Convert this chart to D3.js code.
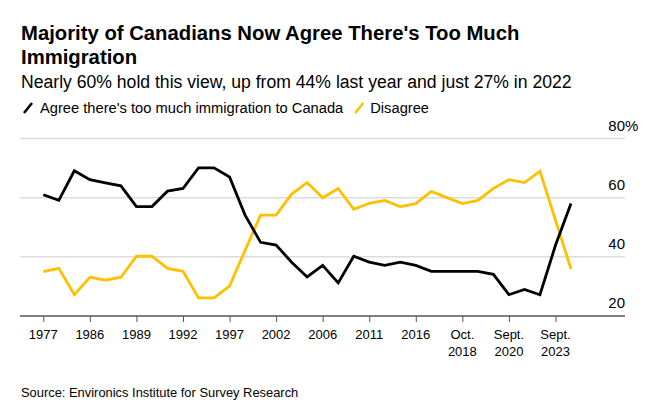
<!DOCTYPE html>
<html>
<head>
<meta charset="utf-8">
<script src="https://cdn.jsdelivr.net/npm/d3@7"></script>
<style>
  html, body { margin: 0; padding: 0; background: #fff; }
  svg { display: block; font-family: "Liberation Sans", Arial, Helvetica, sans-serif; }
</style>
</head>
<body>
<svg id="chart" width="659" height="417"></svg>
<script>
// ---- Data ----
const categories = ["1977","1980","1983","1986","1987","1988","1989","1990","1991","1992","1993","1994","1997","1998","2000","2002","2003","2005","2006","2008","2010","2011","2012","2015","2016","2017","Feb. 2018","Oct. 2018","2019","Feb. 2020","Sept. 2020","2021","2022","Sept. 2023","Sept. 2024"];
const agree    = [61.0,59.1,69.1,66.1,65.0,64.0,57.0,57.0,62.2,63.1,70.1,70.1,67.0,54.1,44.9,44.0,38.2,33.2,37.1,31.2,40.2,38.2,37.1,38.2,37.1,35.1,35.1,35.1,35.1,34.1,27.2,29.0,27.2,43.9,58.0];
const disagree = [35.0,36.1,27.2,33.1,32.1,33.1,40.2,40.2,36.1,35.1,26.1,26.1,30.1,42.2,54.1,54.1,61.2,65.1,60.0,63.1,56.1,58.1,59.1,57.0,58.0,62.1,60.0,58.0,59.1,63.1,66.1,65.1,68.9,52.4,35.9];
const tickCats   = ["1977","1986","1989","1992","1997","2002","2006","2011","2016","Oct. 2018","Sept. 2020","Sept. 2023"];
const tickLabels = [["1977"],["1986"],["1989"],["1992"],["1997"],["2002"],["2006"],["2011"],["2016"],["Oct.","2018"],["Sept.","2020"],["Sept.","2023"]];
const yTicks = [20, 40, 60, 80];
const seriesNames = ["Agree there's too much immigration to Canada", "Disagree"];
const seriesColors = ["#000000", "#ffc000"];

// ---- Layout ----
const svg = d3.select("#chart");
const plotLeft = 20, plotRight = 625;
const x = d3.scalePoint().domain(categories).range([43.3, 571]);
const y = d3.scaleLinear().domain([20, 80]).range([316, 138.5]);

// Title
const title = svg.append("text").attr("x", 21).attr("y", 40)
  .attr("font-size", 20.3).attr("font-weight", "bold").attr("fill", "#000");
title.append("tspan").attr("x", 21).text("Majority of Canadians Now Agree There's Too Much");
title.append("tspan").attr("x", 21).attr("dy", 24).text("Immigration");

svg.append("text").attr("x", 21).attr("y", 88)
  .attr("font-size", 17.6).attr("fill", "#000")
  .text("Nearly 60% hold this view, up from 44% last year and just 27% in 2022");

// Legend
const leg1 = svg.append("g");
leg1.append("line").attr("x1", 24).attr("y1", 113).attr("x2", 32).attr("y2", 103)
  .attr("stroke", seriesColors[0]).attr("stroke-width", 2.5);
const t1 = leg1.append("text").attr("x", 40).attr("y", 113).attr("font-size", 14.7)
  .text(seriesNames[0]);
const w1 = t1.node().getComputedTextLength();
const leg2x = 40 + w1 + 12;
const leg2 = svg.append("g");
leg2.append("line").attr("x1", leg2x).attr("y1", 113).attr("x2", leg2x + 8).attr("y2", 103)
  .attr("stroke", seriesColors[1]).attr("stroke-width", 2.5);
leg2.append("text").attr("x", leg2x + 15).attr("y", 113).attr("font-size", 14.7)
  .text(seriesNames[1]);

// Gridlines + y labels
const grid = svg.append("g");
yTicks.forEach(t => {
  if (t !== 20) {
    grid.append("line").attr("x1", plotLeft).attr("x2", plotRight)
      .attr("y1", y(t)).attr("y2", y(t))
      .attr("stroke", "#dcdcdc").attr("stroke-width", 1.5);
  }
  grid.append("text").attr("x", plotRight).attr("y", y(t) - 8)
    .attr("text-anchor", "end").attr("font-size", 15).attr("fill", "#000").text(t);
  if (t === 80) {
    grid.append("text").attr("x", plotRight).attr("y", y(t) - 8)
      .attr("font-size", 15).attr("fill", "#000").text("%");
  }
});

// X axis
const xAxis = d3.axisBottom(x).tickValues(tickCats).tickSize(6).tickFormat("");
const gx = svg.append("g").attr("transform", `translate(0,${y(20)})`).call(xAxis);
gx.select(".domain").remove();
gx.selectAll(".tick line").attr("stroke", "#555").attr("stroke-width", 1);
svg.append("line").attr("x1", plotLeft).attr("x2", plotRight)
  .attr("y1", y(20)).attr("y2", y(20)).attr("stroke", "#555").attr("stroke-width", 1.5);
tickCats.forEach((c, i) => {
  const t = svg.append("text").attr("x", x(c)).attr("y", 339)
    .attr("text-anchor", "middle").attr("font-size", 13).attr("fill", "#000");
  tickLabels[i].forEach((s, j) => {
    t.append("tspan").attr("x", x(c)).attr("dy", j === 0 ? 0 : 17).text(s);
  });
});

// Lines
const line = d3.line().x((d, i) => x(categories[i])).y(d => y(d));
[disagree, agree].forEach((vals, k) => {
  svg.append("path").datum(vals).attr("d", line)
    .attr("fill", "none").attr("stroke", k === 0 ? seriesColors[1] : seriesColors[0])
    .attr("stroke-width", 2.8).attr("stroke-linejoin", "miter");
});

// Source
svg.append("text").attr("x", 21).attr("y", 397).attr("font-size", 12.9).attr("fill", "#000")
  .text("Source: Environics Institute for Survey Research");
</script>
</body>
</html>
